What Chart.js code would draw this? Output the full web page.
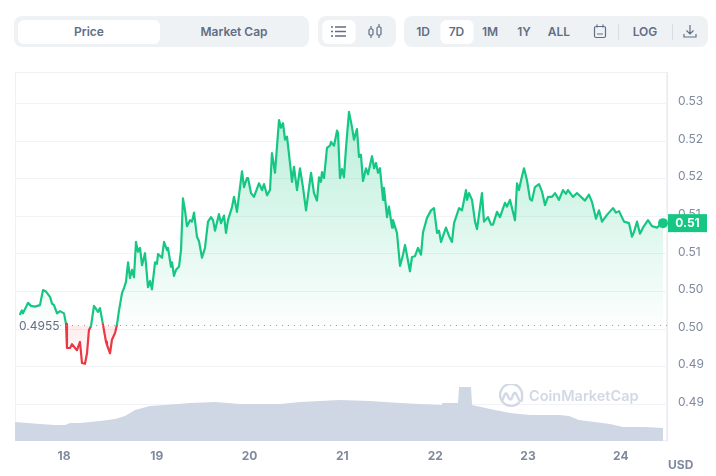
<!DOCTYPE html>
<html>
<head>
<meta charset="utf-8">
<script src="https://cdn.jsdelivr.net/npm/chart.js@4"></script>
<style>
html,body{margin:0;padding:0;background:#fff;width:716px;height:476px;overflow:hidden;font-family:Inter,sans-serif}
#c{position:absolute;left:0;top:0}
.grp{position:absolute;top:16px;height:31px;background:#eff2f5;border-radius:8px}
.b{position:absolute;top:4px;height:24px;line-height:24px;text-align:center;font-size:12px;font-weight:600;color:#616e85;border-radius:6px;transform:translateX(-50%)}
.on{background:#fff}
.sep{position:absolute;top:8px;width:1px;height:16px;background:#d9dee6}
svg.i{position:absolute}
#wm{position:absolute;left:529px;top:386px;font-size:14.5px;font-weight:600;color:#d3d9e4;line-height:20px}
#usd{position:absolute;left:668px;top:457px;font-size:12px;font-weight:700;color:#808a9d;line-height:15px}
</style>
</head>
<body>
<canvas id="c" width="716" height="476"></canvas>
<div class="grp" style="left:14px;width:295px">
  <div class="b on" style="left:75px;width:142px">Price</div>
  <div class="b" style="left:220px;width:120px">Market Cap</div>
</div>
<div class="grp" style="left:318px;width:78px">
  <div class="b on" style="left:20.5px;width:33px;height:24px"></div>
  <svg class="i" style="left:13px;top:9px" width="15" height="13" stroke="#616e85" stroke-width="1.3" fill="none"><path d="M0 2h2M4 2h11M0 6.5h2M4 6.5h11M0 11h2M4 11h11"/></svg>
  <svg class="i" style="left:50px;top:8px" width="15" height="15" stroke="#616e85" stroke-width="1.2" fill="none"><rect x="1" y="5" width="4" height="6" rx="1"/><path d="M3 2v3M3 11v3"/><rect x="9" y="3" width="4" height="8" rx="1"/><path d="M11 0v3M11 11v3"/></svg>
</div>
<div class="grp" style="left:404px;width:304px">
  <div class="b" style="left:19px;width:30px">1D</div>
  <div class="b on" style="left:52.5px;width:33px">7D</div>
  <div class="b" style="left:86px;width:30px">1M</div>
  <div class="b" style="left:120px;width:30px">1Y</div>
  <div class="b" style="left:155px;width:34px">ALL</div>
  <svg class="i" style="left:189px;top:8px" width="14" height="15" stroke="#616e85" stroke-width="1.2" fill="none"><rect x="1.5" y="2.5" width="11" height="11" rx="1.5"/><path d="M4 0.5v3M10 0.5v3M4 10h6"/></svg>
  <div class="sep" style="left:214px"></div>
  <div class="b" style="left:241px;width:36px">LOG</div>
  <div class="sep" style="left:268px"></div>
  <svg class="i" style="left:279px;top:8px" width="14" height="15" stroke="#616e85" stroke-width="1.2" fill="none"><path d="M7 1v9M3.5 6.5L7 10l3.5-3.5M1 10v3h12v-3"/></svg>
</div>
<svg class="i" style="left:499px;top:384px" width="25" height="25" stroke="#d3d9e4" stroke-width="2.4" fill="none"><path d="M20.5 18A11 11 0 1 1 23 12.5v3c0 1.5-2 2-2.7.7L17 9.5c-.7-1-2-.8-2.4.2l-2.1 5c-.5 1-1.800 1-2.300 0L8 10c-.5-.9-1.800-.8-2.200.2L3.500 16"/></svg>
<div id="wm">CoinMarketCap</div>
<div id="usd">USD</div>
<script>
const times = [17.526,17.547,17.558,17.612,17.644,17.687,17.741,17.774,17.806,17.849,17.871,17.892,17.925,17.957,18.000,18.022,18.032,18.065,18.086,18.119,18.140,18.172,18.194,18.226,18.248,18.269,18.291,18.323,18.366,18.388,18.420,18.453,18.463,18.496,18.517,18.550,18.571,18.593,18.625,18.647,18.668,18.690,18.711,18.733,18.754,18.776,18.797,18.819,18.841,18.873,18.905,18.927,18.948,18.981,19.002,19.013,19.056,19.078,19.110,19.121,19.153,19.164,19.185,19.207,19.239,19.261,19.282,19.304,19.325,19.358,19.379,19.401,19.433,19.455,19.487,19.519,19.552,19.584,19.606,19.627,19.670,19.692,19.724,19.746,19.767,19.810,19.832,19.864,19.897,19.918,19.940,19.972,19.983,20.015,20.047,20.101,20.134,20.155,20.188,20.220,20.241,20.274,20.317,20.338,20.360,20.382,20.403,20.435,20.457,20.478,20.511,20.543,20.575,20.608,20.662,20.694,20.726,20.748,20.769,20.780,20.802,20.834,20.866,20.877,20.910,20.942,20.953,20.974,20.996,21.017,21.039,21.071,21.103,21.125,21.157,21.179,21.200,21.222,21.254,21.276,21.319,21.341,21.362,21.384,21.405,21.438,21.448,21.481,21.502,21.535,21.545,21.588,21.621,21.653,21.675,21.728,21.750,21.782,21.815,21.847,21.869,21.912,21.955,21.987,22.020,22.041,22.063,22.116,22.149,22.181,22.203,22.257,22.289,22.332,22.343,22.364,22.397,22.429,22.451,22.504,22.526,22.569,22.601,22.623,22.666,22.698,22.752,22.774,22.806,22.860,22.882,22.903,22.925,22.957,22.989,23.022,23.043,23.075,23.119,23.151,23.183,23.216,23.259,23.291,23.334,23.377,23.409,23.431,23.485,23.528,23.614,23.657,23.690,23.733,23.765,23.798,23.851,23.916,23.948,23.981,24.035,24.089,24.121,24.142,24.175,24.207,24.239,24.293,24.336,24.390,24.422,24.455];
const prices = [.4970,.4975,.4971,.4985,.4981,.4980,.4982,.5002,.5000,.4993,.4984,.4982,.4971,.4974,.4971,.4957,.4925,.4925,.4930,.4925,.4922,.4933,.4905,.4904,.4918,.4949,.4954,.4981,.4973,.4978,.4956,.4933,.4929,.4918,.4936,.4945,.4956,.4975,.4998,.5005,.5013,.5039,.5018,.5029,.5019,.5066,.5053,.5058,.5035,.5051,.5006,.5014,.5003,.5039,.5037,.5050,.5045,.5066,.5055,.5058,.5033,.5039,.5021,.5029,.5033,.5055,.5124,.5108,.5087,.5095,.5093,.5105,.5073,.5067,.5045,.5058,.5093,.5099,.5095,.5081,.5103,.5091,.5101,.5078,.5095,.5112,.5126,.5106,.5139,.5160,.5139,.5151,.5151,.5131,.5126,.5144,.5135,.5143,.5128,.5135,.5184,.5158,.5228,.5218,.5224,.5202,.5206,.5171,.5146,.5166,.5135,.5164,.5139,.5108,.5158,.5131,.5121,.5152,.5146,.5159,.5151,.5191,.5194,.5199,.5194,.5214,.5211,.5151,.5163,.5152,.5191,.5239,.5219,.5202,.5216,.5179,.5182,.5147,.5164,.5156,.5180,.5164,.5171,.5158,.5164,.5122,.5138,.5099,.5113,.5085,.5095,.5078,.5034,.5049,.5062,.5027,.5046,.5047,.5058,.5049,.5079,.5098,.5108,.5111,.5078,.5081,.5066,.5085,.5074,.5066,.5091,.5111,.5108,.5135,.5122,.5131,.5122,.5093,.5083,.5131,.5093,.5099,.5089,.5089,.5106,.5099,.5118,.5113,.5122,.5095,.5144,.5135,.5148,.5164,.5148,.5123,.5121,.5139,.5143,.5133,.5115,.5126,.5126,.5131,.5122,.5135,.5130,.5135,.5126,.5131,.5121,.5129,.5119,.5097,.5108,.5093,.5102,.5111,.5105,.5107,.5093,.5091,.5073,.5079,.5093,.5077,.5085,.5095,.5087,.5085,.5089,.5091];
const volumeTimes = [17.472,17.741,17.903,18.011,18.065,18.172,18.388,18.550,18.657,18.765,18.927,19.088,19.358,19.627,19.897,20.328,20.543,20.974,21.297,21.621,22.063,22.073,22.127,22.137,22.246,22.257,22.386,22.397,22.591,22.806,23.022,23.345,23.442,23.550,23.884,24.024,24.261,24.455];
const volumes = [19,17,16,16,18,18,20,22,25,31,35,36,38,39,37,37,39,41,40,38,36,38,38,38,38,54,54,36,32,28,26,26,25,21,17,14,14,13];
const priceTicks = [.485,.49,.495,.5,.505,.51,.515,.52,.525];
const priceTickLabels = ["0.49","0.49","0.50","0.50","0.51","0.51","0.52","0.52","0.53"];
const dayTicks = [18,19,20,21,22,23,24];
const baseline = 0.4955;
const GREEN = '#16c784', RED = '#ea3943';

const overlay = {
  id:'overlay',
  beforeDraw(ch){
    const a = ch.chartArea, c = ch.ctx;
    c.save(); c.strokeStyle='#eff1f5'; c.lineWidth=1;
    c.strokeRect(a.left+.5,a.top+.5,a.width-1,a.height-1); c.restore();
  },
  afterDatasetsDraw(ch){
    const c = ch.ctx, y = ch.scales.y;
    const by = y.getPixelForValue(baseline);
    c.save();
    c.font='12px Inter'; c.textBaseline='middle'; c.textAlign='left'; c.fillStyle='#616e85';
    c.fillText(baseline.toFixed(4),19,by+1);
    c.restore();
  },
  afterDraw(ch){
    const c = ch.ctx, y = ch.scales.y, a = ch.chartArea;
    const last = prices[prices.length-1], ly = y.getPixelForValue(last);
    c.save();
    c.fillStyle=GREEN; c.fillRect(a.right+1,ly-9,39,18);
    c.fillStyle='#fff'; c.font='700 12px Inter'; c.textAlign='center'; c.textBaseline='middle';
    c.fillText(last.toFixed(2),a.right+20.5,ly+.5);
    c.restore();
  }
};

const chart = new Chart(document.getElementById('c'),{
  data:{datasets:[
    {type:'line',label:'Baseline',yAxisID:'y',xAxisID:'x',
     data:[{x:17.957,y:baseline},{x:24.498,y:baseline}],
     borderColor:'#8f9bb0',borderWidth:1,borderDash:[1,5],pointRadius:0,fill:false,order:0},
    {type:'line',label:'Price',yAxisID:'y',xAxisID:'x',
     data:times.map((t,i)=>({x:t,y:prices[i]})),
     borderColor:GREEN,borderWidth:2.2,tension:0,borderJoinStyle:'round',borderCapStyle:'round',
     pointRadius:ctx=>ctx.dataIndex===times.length-1?5:0,
     pointBackgroundColor:GREEN,pointBorderWidth:0,
     clip:false,
     fill:{target:{value:baseline},above:'rgba(22,199,132,.1)',below:'rgba(234,57,67,.1)'},
     segment:{borderColor:s=>(s.p0.parsed.y+s.p1.parsed.y)/2<baseline?RED:GREEN},
     order:1},
    {type:'line',label:'Volume',yAxisID:'v',xAxisID:'x',
     data:volumeTimes.map((t,i)=>({x:t,y:volumes[i]})),
     borderWidth:0,pointRadius:0,tension:0,backgroundColor:'#cfd6e4',fill:'origin',order:3}
  ]},
  plugins:[overlay],
  options:{
    responsive:false,animation:false,
    layout:{padding:{left:15,top:72,right:0,bottom:0}},
    plugins:{legend:{display:false},tooltip:{enabled:false}},
    scales:{
      x:{type:'linear',min:17.472,max:24.498,
         afterBuildTicks(s){s.ticks=dayTicks.map(v=>({value:v}));},
         afterFit(s){s.height=35;},
         grid:{display:false},border:{display:false},
         ticks:{autoSkip:false,maxRotation:0,padding:0,color:'#808a9d',font:{family:'Inter',size:12,weight:'700'},callback:v=>String(v)}},
      y:{position:'right',min:.48013,max:.5292,
         afterBuildTicks(s){s.ticks=priceTicks.map(v=>({value:v}));},
         afterFit(s){s.width=49;},
         grid:{color:'#f1f3f6',drawTicks:false},border:{color:'#e9ecf1'},
         ticks:{autoSkip:false,padding:11,labelOffset:-2,color:'#808a9d',font:{family:'Inter',size:12},
                callback:(v,i)=>priceTickLabels[i]}},
      v:{display:false,min:0,max:369}
    }
  }
});
const sy = chart.scales.y, ctx2d = chart.ctx;
const up = ctx2d.createLinearGradient(0,sy.getPixelForValue(.5265),0,sy.getPixelForValue(baseline));
up.addColorStop(0,'rgba(22,199,132,.32)');
up.addColorStop(1,'rgba(22,199,132,.01)');
const down = ctx2d.createLinearGradient(0,sy.getPixelForValue(baseline),0,sy.getPixelForValue(.4905));
down.addColorStop(0,'rgba(234,57,67,.10)');
down.addColorStop(1,'rgba(234,57,67,0)');
chart.data.datasets[1].fill = {target:{value:baseline},above:up,below:down};
chart.update('none');
</script>
</body>
</html>
